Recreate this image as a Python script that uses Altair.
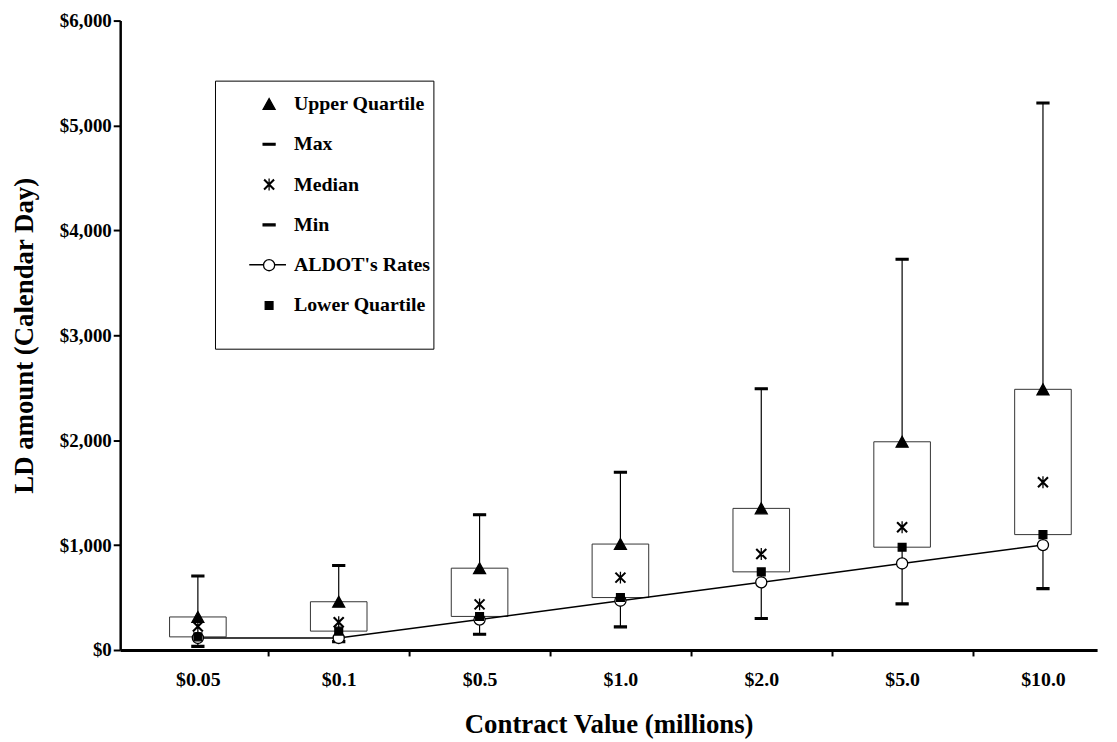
import json
import altair as alt
import pandas as pd

# ---- data ----
categories = ["$0.05", "$0.1", "$0.5", "$1.0", "$2.0", "$5.0", "$10.0"]
max_vals = [705, 805, 1290, 1695, 2490, 3725, 5215]
upper_q = [315, 460, 780, 1010, 1350, 1985, 2485]
median_vals = [225, 265, 435, 690, 915, 1170, 1600]
lower_q = [125, 180, 320, 500, 745, 980, 1100]
min_vals = [35, 80, 150, 220, 300, 440, 585]
aldot_rates = [115, 115, 290, 470, 645, 825, 1000]

series_names = ["Upper Quartile", "Max", "Median", "Min", "ALDOT's Rates", "Lower Quartile"]
y_ticks = [0, 1000, 2000, 3000, 4000, 5000, 6000]

FONT = "Liberation Serif"

df = pd.DataFrame({
    "idx": list(range(len(categories))),
    "category": categories,
    "mx": max_vals,
    "uq": upper_q,
    "med": median_vals,
    "lq": lower_q,
    "mn": min_vals,
    "aldot": aldot_rates,
})

col_to_series = {"mx": "Max", "mn": "Min", "uq": "Upper Quartile", "med": "Median",
                 "aldot": "ALDOT's Rates", "lq": "Lower Quartile"}
draw_order = ["mx", "mn", "uq", "med", "aldot", "lq"]
long = df.melt(id_vars=["idx", "category"], value_vars=draw_order,
               var_name="col", value_name="value")
long["series"] = long["col"].map(col_to_series)

# symbol shapes (unit square -1..1 is scaled to sqrt(size) pixels)
tri = "M0,-0.78L0.86,0.78L-0.86,0.78Z"
cap = "M-0.86,-0.13L0.86,-0.13L0.86,0.13L-0.86,0.13Z"
aster = ("M-0.76,-0.68L0.68,0.76M-0.68,-0.76L0.76,0.68"
         "M-0.76,0.68L0.68,-0.76M-0.68,0.76L0.76,-0.68"
         "M0,-0.86L0,0.86")
circ = "M0.8,0A0.8,0.8 0 1,1 -0.8,0A0.8,0.8 0 1,1 0.8,0Z"
sq = "M-0.56,-0.56L0.56,-0.56L0.56,0.56L-0.56,0.56Z"
shapes = [tri, cap, aster, cap, circ, sq]
fills = ["black", "black", "black", "black", "white", "black"]
SYM_SIZE = 196

xs = alt.Scale(domain=[-0.5163, 6.349], nice=False, zero=False)
ys = alt.Scale(domain=[0, 6000], nice=False, zero=True)

x_values = [i * 0.5 for i in range(0, 13)]
label_expr = ("datum.value % 1 === 0 ? " + json.dumps(categories) +
              "[datum.value] : ''")

x_axis = alt.Axis(
    values=x_values, labelExpr=label_expr, grid=False,
    title="Contract Value (millions)",
    domainColor="black", domainWidth=3,
    tickColor="black", tickWidth=2, tickSize=6,
    tickOpacity={"condition": {"test": "datum.value % 1 === 0", "value": 0}, "value": 1},
    labelFont=FONT, labelFontSize=20, labelFontWeight="bold", labelColor="black",
    labelPadding=14, labelOverlap=False, labelFlush=False,
    titleFont=FONT, titleFontSize=27, titleFontWeight="bold", titleColor="black",
    titleY=75, titleBaseline="middle",
)
y_axis = alt.Axis(
    values=y_ticks, format="$,.0f", grid=False,
    title="LD amount (Calendar Day)",
    domainColor="black", domainWidth=2.5,
    tickColor="black", tickWidth=2, tickSize=7,
    labelFont=FONT, labelFontSize=19, labelFontWeight="bold", labelColor="black",
    labelPadding=2,
    titleFont=FONT, titleFontSize=27, titleFontWeight="bold", titleColor="black",
    titleX=-96, titleY=317, titleAngle=270, titleAlign="center", titleBaseline="middle",
)

legend = alt.Legend(
    title=None, orient="none", legendX=140, legendY=74,
    labelFont=FONT, labelFontSize=20, labelFontWeight="bold", labelColor="black",
    labelOffset=15, rowPadding=20.6, padding=0,
    symbolSize=SYM_SIZE, symbolStrokeColor="black", symbolStrokeWidth=1.3,
)

base_x = alt.X("idx:Q", scale=xs, axis=x_axis)

whisk_up = alt.Chart(df).mark_rule(color="black", strokeWidth=1.2).encode(
    x=base_x, y=alt.Y("mx:Q", scale=ys, axis=y_axis), y2="uq:Q")
whisk_dn = alt.Chart(df).mark_rule(color="black", strokeWidth=1.2).encode(
    x=alt.X("idx:Q", scale=xs), y=alt.Y("lq:Q", scale=ys), y2="mn:Q")

boxes = alt.Chart(df).mark_bar(size=57, filled=False, color="#333333", stroke="#333333",
                               strokeWidth=1).encode(
    x=alt.X("idx:Q", scale=xs), y=alt.Y("uq:Q", scale=ys), y2="lq:Q")

line = alt.Chart(df).mark_line(color="black", strokeWidth=1.5).encode(
    x=alt.X("idx:Q", scale=xs), y=alt.Y("aldot:Q", scale=ys))

points = alt.Chart(long).mark_point(filled=True, stroke="black", strokeWidth=1.3,
                                    size=SYM_SIZE, opacity=1).encode(
    x=alt.X("idx:Q", scale=xs),
    y=alt.Y("value:Q", scale=ys),
    shape=alt.Shape("series:N", scale=alt.Scale(domain=series_names, range=shapes), legend=legend),
    color=alt.Color("series:N", scale=alt.Scale(domain=series_names, range=fills), legend=legend),
)

frame_df = pd.DataFrame({"k": [0]})
legend_box = alt.Chart(frame_df).mark_rect(fill="white", fillOpacity=0, stroke="black",
                                           strokeWidth=1).encode(
    x=alt.value(96), x2=alt.value(316), y=alt.value(61), y2=alt.value(331))
legend_line = alt.Chart(frame_df).mark_rule(color="black", strokeWidth=1.5).encode(
    x=alt.value(130), x2=alt.value(167), y=alt.value(246))

chart = alt.layer(whisk_up, whisk_dn, boxes, line, legend_box, legend_line, points).properties(
    width=984, height=634,
    padding={"left": 113, "top": 10, "right": 12, "bottom": 90},
    autosize=alt.AutoSizeParams(type="none"),
    background="white",
).configure_view(stroke=None)

chart.save("out.html", embed_options={"renderer": "svg", "actions": False})
